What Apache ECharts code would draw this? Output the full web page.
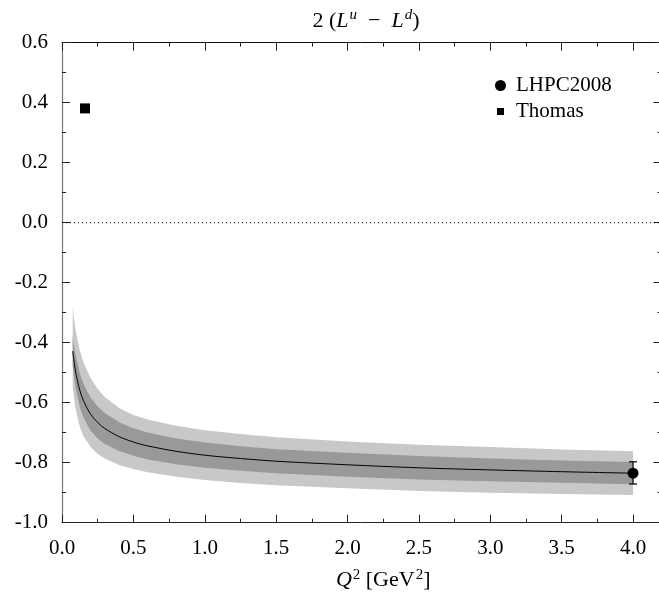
<!DOCTYPE html>
<html><head><meta charset="utf-8">
<script src="https://cdn.jsdelivr.net/npm/echarts@6/dist/echarts.min.js"></script>
<style>html,body{margin:0;padding:0;background:#fff}#c{width:659px;height:597px}</style>
</head><body><div id="c"></div>
<script>
// ---- data ----
const qSquared    = [0.075, 0.09, 0.1, 0.125, 0.15, 0.2, 0.25, 0.3, 0.4, 0.5, 0.6, 0.8, 1.0, 1.25, 1.5, 2.0, 2.5, 3.0, 3.5, 4.0];
const centerLine  = [-0.428, -0.481, -0.508, -0.559, -0.593, -0.638, -0.666, -0.686, -0.713, -0.731, -0.744, -0.762, -0.775, -0.786, -0.795, -0.807, -0.817, -0.824, -0.830, -0.835];
const outerTop    = [-0.286, -0.341, -0.370, -0.426, -0.465, -0.518, -0.554, -0.581, -0.618, -0.641, -0.656, -0.677, -0.692, -0.704, -0.715, -0.729, -0.740, -0.748, -0.756, -0.762];
const outerBottom = [-0.548, -0.606, -0.633, -0.681, -0.711, -0.748, -0.771, -0.786, -0.808, -0.821, -0.832, -0.847, -0.858, -0.868, -0.875, -0.885, -0.894, -0.900, -0.904, -0.908];
const innerTop    = [-0.378, -0.428, -0.453, -0.503, -0.537, -0.583, -0.613, -0.634, -0.665, -0.685, -0.699, -0.719, -0.733, -0.745, -0.755, -0.767, -0.778, -0.786, -0.793, -0.798];
const innerBottom = [-0.478, -0.534, -0.563, -0.615, -0.649, -0.693, -0.719, -0.738, -0.761, -0.777, -0.789, -0.805, -0.817, -0.827, -0.835, -0.847, -0.856, -0.862, -0.867, -0.872];
const lhpcPoint   = [4.0, -0.835];
const lhpcError   = [-0.797, -0.871];
const thomasPoint = [0.161, 0.381];
const zeroLine    = [[0, 0], [4.2, 0]];
const seriesNames = ['LHPC2008', 'Thomas'];
const xTickLabels = ['0.0','0.5','1.0','1.5','2.0','2.5','3.0','3.5','4.0'];
const yTickLabels = ['0.6','0.4','0.2','0.0','-0.2','-0.4','-0.6','-0.8','-1.0'];

const FONT = 'Liberation Serif';
const chart = echarts.init(document.getElementById('c'), null, {renderer: 'canvas'});

function band(upper, lower, color, z) {
  return {
    type: 'custom', xAxisIndex: 0, yAxisIndex: 0, z: z, silent: true, clip: true,
    data: [[qSquared[0], upper[0]]],
    renderItem: function (params, api) {
      const pts = [];
      for (let i = 0; i < qSquared.length; i++) pts.push(api.coord([qSquared[i], upper[i]]));
      for (let i = qSquared.length - 1; i >= 0; i--) pts.push(api.coord([qSquared[i], lower[i]]));
      return {type: 'polygon', shape: {points: pts}, style: {fill: color, stroke: null}};
    }
  };
}

function fmt(list) {
  return function (v) {
    const s = (Math.abs(v) < 1e-9 ? 0 : v).toFixed(1);
    return list.indexOf(s) >= 0 ? s : '';
  };
}

const richMath = {
  n: {fontFamily: FONT, fontSize: 22, fontWeight: 'normal', color: '#000'},
  i: {fontFamily: FONT, fontSize: 22, fontWeight: 'normal', fontStyle: 'italic', color: '#000'},
  s: {fontFamily: FONT, fontSize: 15, fontWeight: 'normal', fontStyle: 'italic', color: '#000', padding: [0, 0, 11, 1]},
  r: {fontFamily: FONT, fontSize: 15, fontWeight: 'normal', color: '#000', padding: [0, 0, 11, 1]}
};

const tickStyle = {color: '#222'};

const option = {
  animation: false,
  backgroundColor: '#fff',
  textStyle: {fontFamily: FONT},
  title: {
    left: 361, top: 3, textAlign: 'center',
    text: '{n|2 (}{i|L}{s|u}{n|  \u2212  }{i|L}{s|d}{n|)}',
    textStyle: {fontWeight: 'normal', rich: richMath}
  },
  legend: {
    orient: 'vertical', left: 495, top: 75, padding: 0,
    itemWidth: 11, itemHeight: 11, itemGap: 5,
    data: [
      {name: seriesNames[0], icon: 'circle'},
      {name: seriesNames[1], icon: 'path://M2,2L9,2L9,9L2,9Z M0,0 M11,11'}
    ],
    textStyle: {fontFamily: FONT, fontSize: 21, color: '#000', padding: [0, 0, 0, 5]}
  },
  grid: [
    {left: 62, right: -45.4, top: 42.7, bottom: 74.3, outerBoundsMode: 'none', containLabel: false},
    {left: 62, right: -2.5, top: 42.7, bottom: 74.3, outerBoundsMode: 'none', containLabel: false}
  ],
  xAxis: [
    {
      type: 'value', gridIndex: 0, position: 'bottom', min: 0, max: 4.5, interval: 0.5,
      axisLine: {show: true, onZero: false, lineStyle: {color: '#222', width: 1}},
      axisTick: {show: true, inside: true, length: 8, lineStyle: tickStyle},
      minorTick: {show: true, splitNumber: 2, length: 4, lineStyle: tickStyle},
      splitLine: {show: false},
      axisLabel: {fontFamily: FONT, fontSize: 21, color: '#000', margin: 15, formatter: fmt(xTickLabels)},
      name: '{i|Q}{r|2}{n| [GeV}{r|2}{n|]}',
      nameLocation: 'middle', nameGap: 45,
      nameTextStyle: {rich: richMath}
    },
    {
      type: 'value', gridIndex: 0, position: 'top', min: 0, max: 4.5, interval: 0.5,
      axisLine: {show: true, onZero: false, lineStyle: {color: '#111', width: 1}},
      axisTick: {show: true, inside: true, length: 8, lineStyle: tickStyle},
      minorTick: {show: true, splitNumber: 2, length: 4, lineStyle: tickStyle},
      splitLine: {show: false}, axisLabel: {show: false}
    },
    {type: 'value', gridIndex: 1, min: 0, max: 4.2, show: false}
  ],
  yAxis: [
    {
      type: 'value', gridIndex: 0, position: 'left', min: -1.0, max: 0.6, interval: 0.2,
      axisLine: {show: true, onZero: false, lineStyle: {color: '#777', width: 1.2}},
      axisTick: {show: true, inside: true, length: 8, lineStyle: tickStyle},
      minorTick: {show: true, splitNumber: 2, length: 4, lineStyle: tickStyle},
      splitLine: {show: false},
      axisLabel: {fontFamily: FONT, fontSize: 21, color: '#000', margin: 14, formatter: fmt(yTickLabels)}
    },
    {
      type: 'value', gridIndex: 1, position: 'right', min: -1.0, max: 0.6, interval: 0.2,
      axisLine: {show: true, onZero: false, lineStyle: {color: '#111', width: 1}},
      axisTick: {show: true, inside: true, length: 8, lineStyle: tickStyle},
      minorTick: {show: true, splitNumber: 2, length: 4, lineStyle: tickStyle},
      splitLine: {show: false}, axisLabel: {show: false}
    }
  ],
  series: [
    band(outerTop, outerBottom, '#c8c8c8', 1),
    band(innerTop, innerBottom, '#999999', 2),
    {
      type: 'line', xAxisIndex: 0, yAxisIndex: 0, z: 3, silent: true,
      data: zeroLine, showSymbol: false, symbol: 'none',
      lineStyle: {color: '#000', width: 1, type: [1, 3]}
    },
    {
      type: 'line', xAxisIndex: 0, yAxisIndex: 0, z: 3, silent: true,
      data: qSquared.map((x, i) => [x, centerLine[i]]),
      showSymbol: false, symbol: 'none', smooth: 0.3,
      lineStyle: {color: '#000', width: 1}
    },
    {
      type: 'custom', xAxisIndex: 0, yAxisIndex: 0, z: 4, silent: true,
      data: [[lhpcPoint[0], lhpcPoint[1], lhpcError[0], lhpcError[1]]],
      renderItem: function (params, api) {
        const a = api.coord([api.value(0), api.value(2)]);
        const b = api.coord([api.value(0), api.value(3)]);
        const st = {stroke: '#000', lineWidth: 1.2};
        return {type: 'group', children: [
          {type: 'line', shape: {x1: a[0], y1: a[1], x2: b[0], y2: b[1]}, style: st},
          {type: 'line', shape: {x1: a[0] - 4, y1: a[1], x2: a[0] + 4, y2: a[1]}, style: st},
          {type: 'line', shape: {x1: b[0] - 4, y1: b[1], x2: b[0] + 4, y2: b[1]}, style: st}
        ]};
      }
    },
    {
      name: seriesNames[0], type: 'scatter', xAxisIndex: 0, yAxisIndex: 0, z: 5,
      symbol: 'circle', symbolSize: 11, itemStyle: {color: '#000', opacity: 1},
      data: [lhpcPoint]
    },
    {
      name: seriesNames[1], type: 'scatter', xAxisIndex: 0, yAxisIndex: 0, z: 5,
      symbol: 'rect', symbolSize: 10, itemStyle: {color: '#000', opacity: 1},
      data: [thomasPoint]
    }
  ]
};
chart.setOption(option);
</script>
</body></html>
